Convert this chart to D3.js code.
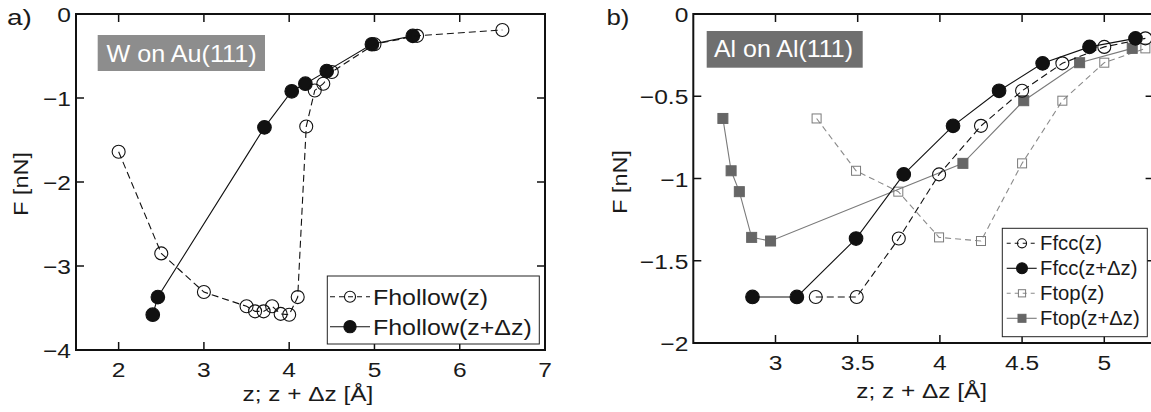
<!DOCTYPE html>
<html><head><meta charset="utf-8">
<script src="https://cdn.jsdelivr.net/npm/d3@7"></script>
<style>
html,body{margin:0;padding:0;background:#fff;}
svg{display:block;}
text{font-family:"Liberation Sans",Arial,Helvetica,sans-serif;fill:#1a1a1a;}
</style></head>
<body>
<svg id="chart" width="1151" height="412"></svg>
<script>
// ---- Panel a) W on Au(111) ----
const hollowZ_x   = [2.0, 2.5, 3.0, 3.5, 3.6, 3.7, 3.8, 3.9, 4.0, 4.1, 4.2, 4.3, 4.4, 4.5, 5.0, 5.5, 6.5];
const hollowZ_y   = [-1.64, -2.85, -3.31, -3.48, -3.54, -3.54, -3.48, -3.57, -3.58, -3.37, -1.34, -0.91, -0.83, -0.69, -0.36, -0.26, -0.19];
const hollowZdz_x = [2.4, 2.46, 3.71, 4.03, 4.19, 4.44, 4.97, 5.45];
const hollowZdz_y = [-3.58, -3.37, -1.35, -0.92, -0.83, -0.68, -0.36, -0.26];
const aXTicks = [2, 3, 4, 5, 6, 7];
const aYTicks = [0, -1, -2, -3, -4];
const aLegend = ["Fhollow(z)", "Fhollow(z+\u0394z)"];

// ---- Panel b) Al on Al(111) ----
const fccZ_x   = [3.245, 3.494, 3.75, 3.995, 4.25, 4.5, 4.745, 5.0, 5.25];
const fccZ_y   = [-1.72, -1.72, -1.365, -0.975, -0.68, -0.467, -0.30, -0.20, -0.148];
const fccZdz_x = [2.86, 3.13, 3.49, 3.78, 4.08, 4.36, 4.625, 4.91, 5.19];
const fccZdz_y = [-1.72, -1.72, -1.365, -0.975, -0.68, -0.467, -0.30, -0.20, -0.148];
const topZ_x   = [3.25, 3.49, 3.747, 3.995, 4.25, 4.5, 4.745, 5.0, 5.25];
const topZ_y   = [-0.635, -0.953, -1.08, -1.358, -1.38, -0.908, -0.527, -0.296, -0.209];
const topZdz_x = [2.68, 2.73, 2.78, 2.855, 2.97, 4.14, 4.51, 4.85, 5.17];
const topZdz_y = [-0.635, -0.953, -1.08, -1.358, -1.38, -0.908, -0.527, -0.296, -0.209];
const bXTicks = [3, 3.5, 4, 4.5, 5];
const bYTicks = [0, -0.5, -1, -1.5, -2];
const bLegend = ["Ffcc(z)", "Ffcc(z+\u0394z)", "Ftop(z)", "Ftop(z+\u0394z)"];

const xLabel = "z; z + \u0394z [\u00C5]";
const yLabel = "F [nN]";

const svg = d3.select("#chart");
const fmt = v => (v < 0 ? "\u2212" : "") + String(Math.abs(v));

function txt(parent, x, y, s, size, sx, anchor, rot) {
  const g = parent.append("g").attr("transform", `translate(${x},${y})` + (rot ? ` rotate(${rot})` : "") + ` scale(${sx},1)`);
  return g.append("text").attr("x", 0).attr("y", 0).attr("font-size", size).attr("text-anchor", anchor || "start").text(s);
}
const zip = (xs, ys) => xs.map((x, i) => [x, ys[i]]);

function frame(x, y, xTicks, yTicks, tickFmtX) {
  const g = svg.append("g");
  const [x0, x1] = x.range(), [y1, y0] = y.range();
  const tl = 8;
  xTicks.forEach(t => {
    const px = x(t);
    if (px > x0 + 1 && px < x1 - 1) {
      g.append("line").attr("x1", px).attr("x2", px).attr("y1", y1).attr("y2", y1 - tl).attr("stroke", "#111").attr("stroke-width", 1.5);
      g.append("line").attr("x1", px).attr("x2", px).attr("y1", y0).attr("y2", y0 + tl).attr("stroke", "#111").attr("stroke-width", 1.5);
    }
    txt(g, px, y1 + 27, tickFmtX(t), 20.8, 1.18, "middle");
  });
  yTicks.forEach(t => {
    const py = y(t);
    if (py > y0 + 1 && py < y1 - 1) {
      g.append("line").attr("x1", x0).attr("x2", x0 + tl).attr("y1", py).attr("y2", py).attr("stroke", "#111").attr("stroke-width", 1.5);
      g.append("line").attr("x1", x1).attr("x2", x1 - tl).attr("y1", py).attr("y2", py).attr("stroke", "#111").attr("stroke-width", 1.5);
    }
    txt(g, x0 - 5, py + 8, fmt(t), 20.8, 1.18, "end");
  });
  g.append("rect").attr("x", x0).attr("y", y0).attr("width", x1 - x0).attr("height", y1 - y0)
    .attr("fill", "none").attr("stroke", "#111").attr("stroke-width", 2);
  return g;
}

function series(g, x, y, pts, opt) {
  const line = d3.line().x(d => x(d[0])).y(d => y(d[1]));
  g.append("path").attr("d", line(pts)).attr("fill", "none").attr("stroke", opt.line)
    .attr("stroke-width", 1.1).attr("stroke-dasharray", opt.dash || null);
  pts.forEach(d => marker(g, x(d[0]), y(d[1]), opt));
}
function marker(g, cx, cy, opt, scale) {
  const k = scale || 1;
  if (opt.shape === "circle") {
    g.append("circle").attr("cx", cx).attr("cy", cy).attr("r", opt.r * k)
      .attr("fill", opt.fill).attr("stroke", opt.stroke).attr("stroke-width", 1.1);
  } else {
    const s = opt.s * k;
    g.append("rect").attr("x", cx - s / 2).attr("y", cy - s / 2).attr("width", s).attr("height", s)
      .attr("fill", opt.fill).attr("stroke", opt.stroke).attr("stroke-width", 1);
  }
}

// ===== Panel a =====
const xa = d3.scaleLinear().domain([1.5, 7]).range([76, 545]);
const ya = d3.scaleLinear().domain([-4, 0]).range([350, 14]);
const ga = frame(xa, ya, aXTicks, aYTicks, t => String(t));
const styHZ  = {shape: "circle", r: 6.5, fill: "none", stroke: "#111", line: "#111", dash: "7,4"};
const styHZd = {shape: "circle", r: 6.8, fill: "#111", stroke: "#111", line: "#111"};
series(ga, xa, ya, zip(hollowZdz_x, hollowZdz_y), styHZd);
series(ga, xa, ya, zip(hollowZ_x, hollowZ_y), styHZ);
ga.append("rect").attr("x", 97.7).attr("y", 35).attr("width", 167.3).attr("height", 36).attr("fill", "#8d8d8d");
txt(ga, 106.5, 61.5, "W on Au(111)", 23.3, 1.08, "start").style("fill", "#fff");
// legend a
const la = ga.append("g");
la.append("rect").attr("x", 327.3).attr("y", 276).attr("width", 212).attr("height", 68).attr("fill", "#fff").attr("stroke", "#222").attr("stroke-width", 1);
[[styHZ, 296.7], [styHZd, 326.7]].forEach(([st, yy], i) => {
  la.append("line").attr("x1", 330).attr("x2", 370).attr("y1", yy).attr("y2", yy).attr("stroke", st.line).attr("stroke-width", 1.1).attr("stroke-dasharray", st.dash ? "5,4" : null);
  marker(la, 350, yy, st, i === 0 ? 0.85 : 0.9);
  txt(la, 373, yy + 8, aLegend[i], 22.3, 1.12, "start");
});

// ===== Panel b =====
const xb = d3.scaleLinear().domain([2.5, 5.3]).range([693.3, 1153.6]);
const yb = d3.scaleLinear().domain([-2, 0]).range([343, 14]);
const gb = frame(xb, yb, bXTicks, bYTicks, t => String(t));
const styTZ  = {shape: "square", s: 9, fill: "none", stroke: "#7a7a7a", line: "#8a8a8a", dash: "6,4"};
const styTZd = {shape: "square", s: 10, fill: "#666", stroke: "#666", line: "#7a7a7a"};
const styFZ  = {shape: "circle", r: 6.5, fill: "none", stroke: "#111", line: "#111", dash: "7,4"};
const styFZd = {shape: "circle", r: 6.8, fill: "#111", stroke: "#111", line: "#111"};
series(gb, xb, yb, zip(topZ_x, topZ_y), styTZ);
series(gb, xb, yb, zip(topZdz_x, topZdz_y), styTZd);
series(gb, xb, yb, zip(fccZ_x, fccZ_y), styFZ);
series(gb, xb, yb, zip(fccZdz_x, fccZdz_y), styFZd);
gb.append("rect").attr("x", 706.7).attr("y", 31).attr("width", 156).attr("height", 36.7).attr("fill", "#6f6f6f");
txt(gb, 714, 56.7, "Al on Al(111)", 23.3, 1.07, "start").style("fill", "#fff");
const lb = gb.append("g");
lb.append("rect").attr("x", 1002.3).attr("y", 228.3).attr("width", 145).attr("height", 108.4).attr("fill", "#fff").attr("stroke", "#222").attr("stroke-width", 1);
[[styFZ, 243.3], [styFZd, 268.3], [styTZ, 293.3], [styTZd, 318.3]].forEach(([st, yy], i) => {
  lb.append("line").attr("x1", 1006.7).attr("x2", 1036.7).attr("y1", yy).attr("y2", yy).attr("stroke", st.line).attr("stroke-width", 1.1).attr("stroke-dasharray", st.dash ? "4,4" : null);
  marker(lb, 1022, yy, st, st.shape === "circle" ? (st.fill === "none" ? 0.7 : 0.8) : 0.8);
  txt(lb, 1040, yy + 7, bLegend[i], 20.3, 1.0, "start");
});

// axis labels and panel labels
txt(svg, 308, 401, xLabel, 20.5, 1.19, "middle");
txt(svg, 921.7, 398, xLabel, 20.5, 1.19, "middle");
txt(svg, 28, 184, yLabel, 20.5, 1.15, "middle", -90);
txt(svg, 627, 182, yLabel, 20.5, 1.15, "middle", -90);
txt(svg, 7, 25, "a)", 21.5, 1.3, "start");
txt(svg, 606.5, 25, "b)", 21.5, 1.2, "start");
</script>
</body></html>
